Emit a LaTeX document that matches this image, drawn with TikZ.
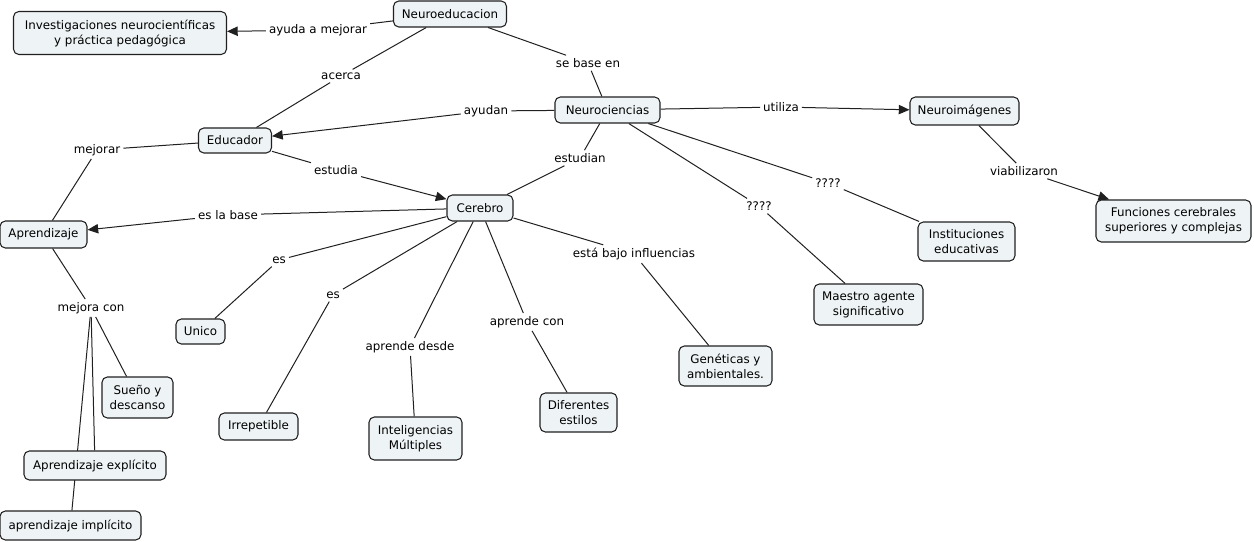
\documentclass[tikz,border=0pt]{standalone}
\usepackage{fontspec}
\setmainfont{DejaVu Sans}
\usetikzlibrary{arrows.meta,backgrounds}
\definecolor{cfill}{HTML}{EEF3F5}
\definecolor{cline}{HTML}{202020}
\tikzset{
  concept/.style={draw=cline, fill=cfill, rounded corners=4pt, line width=0.8pt,
    font=\fontsize{8.9}{11.25}\selectfont, align=center, inner sep=1pt},
  sz/.style 2 args={minimum width=#1*0.75pt, minimum height=#2*0.75pt},
  lbl/.style={font=\fontsize{8.9}{11.25}\selectfont, inner sep=2.2pt, align=center},
  conn/.style={draw=cline, line width=0.75pt},
  arr/.style={conn, -{Triangle[length=8pt,width=7pt]}},
}
\begin{document}
\begin{tikzpicture}[x=0.75pt,y=-0.75pt]
\useasboundingbox (0,0) rectangle (1254,542);
% concepts
\node[concept,sz={113}{26}] (neuroed) at (450,14) {Neuroeducacion};
\node[concept,sz={213}{43}] (invest) at (120,33) {Investigaciones neurocientíficas\\y práctica pedagógica};
\node[concept,sz={73}{25}] (educ) at (235,140.5) {Educador};
\node[concept,sz={105}{26}] (neuroc) at (607.5,110) {Neurociencias};
\node[concept,sz={109}{28}] (neuroim) at (964.5,111) {Neuroimágenes};
\node[concept,sz={66}{26}] (cerebro) at (480,208) {Cerebro};
\node[concept,sz={87}{27}] (aprend) at (43.5,234.5) {Aprendizaje};
\node[concept,sz={155}{42}] (func) at (1173.5,221) {Funciones cerebrales\\superiores y complejas};
\node[concept,sz={97}{39}] (instit) at (966.5,241.5) {Instituciones\\educativas};
\node[concept,sz={109}{41}] (maestro) at (868.5,304.5) {Maestro agente\\significativo};
\node[concept,sz={49}{25}] (unico) at (200.5,331.5) {Unico};
\node[concept,sz={71}{41}] (sueno) at (137.5,397.5) {Sueño y\\descanso};
\node[concept,sz={79}{27}] (irrep) at (258.5,426.5) {Irrepetible};
\node[concept,sz={93}{43}] (intel) at (415.5,438.5) {Inteligencias\\Múltiples};
\node[concept,sz={77}{39}] (difer) at (578.5,412.5) {Diferentes\\estilos};
\node[concept,sz={93}{40}] (genet) at (725.5,366) {Genéticas y\\ambientales.};
\node[concept,sz={142}{29}] (aexpl) at (95,465.5) {Aprendizaje explícito};
\node[concept,sz={141}{29}] (aimpl) at (70.5,525.5) {aprendizaje implícito};
% link labels
\node[lbl] (l1) at (318,30) {ayuda a mejorar};
\node[lbl] (l2) at (341,76) {acerca};
\node[lbl] (l3) at (588,63) {se base en};
\node[lbl] (l4) at (486,111) {ayudan};
\node[lbl] (l5) at (781,107) {utiliza};
\node[lbl] (l6) at (580,158) {estudian};
\node[lbl] (l7) at (97,150) {mejorar};
\node[lbl] (l8) at (336,170) {estudia};
\node[lbl] (l9) at (228,215) {es la base};
\node[lbl] (l10) at (828,183) {????};
\node[lbl] (l11) at (759,206) {????};
\node[lbl] (l12) at (279,260) {es};
\node[lbl] (l13) at (333,295) {es};
\node[lbl] (l14) at (634,254) {está bajo influencias};
\node[lbl] (l15) at (1024,171) {viabilizaron};
\node[lbl] (l16) at (527,322) {aprende con};
\node[lbl] (l17) at (410,347) {aprende desde};
\node[lbl] (l18) at (91,308) {mejora con};
% connectors
\begin{pgfonlayer}{background}
\draw[conn] (neuroed) -- (l1); \draw[arr] (l1) -- (invest);
\draw[conn] (neuroed) -- (l2); \draw[conn] (l2) -- (educ);
\draw[conn] (neuroed) -- (l3); \draw[conn] (l3) -- (neuroc);
\draw[conn] (neuroc) -- (l4); \draw[arr] (l4) -- (educ);
\draw[conn] (neuroc) -- (l5); \draw[arr] (l5) -- (neuroim);
\draw[conn] (neuroc) -- (l6); \draw[conn] (l6) -- (cerebro);
\draw[conn] (neuroc) -- (l10); \draw[conn] (l10) -- (instit);
\draw[conn] (neuroc) -- (l11); \draw[conn] (l11) -- (maestro);
\draw[conn] (neuroim) -- (l15); \draw[arr] (l15) -- (func);
\draw[conn] (educ) -- (l7); \draw[conn] (l7) -- (aprend);
\draw[conn] (educ) -- (l8); \draw[arr] (l8) -- (cerebro);
\draw[conn] (cerebro) -- (l9); \draw[arr] (l9) -- (aprend);
\draw[conn] (cerebro) -- (l12); \draw[conn] (l12) -- (unico);
\draw[conn] (cerebro) -- (l13); \draw[conn] (l13) -- (irrep);
\draw[conn] (cerebro) -- (l17); \draw[conn] (l17) -- (intel);
\draw[conn] (cerebro) -- (l16); \draw[conn] (l16) -- (difer);
\draw[conn] (cerebro) -- (l14); \draw[conn] (l14) -- (genet);
\draw[conn] (aprend) -- (l18);
\draw[conn] (l18) -- (sueno);
\draw[conn] (l18) -- (aexpl);
\draw[conn] (l18) -- (aimpl);
\end{pgfonlayer}
\end{tikzpicture}
\end{document}
